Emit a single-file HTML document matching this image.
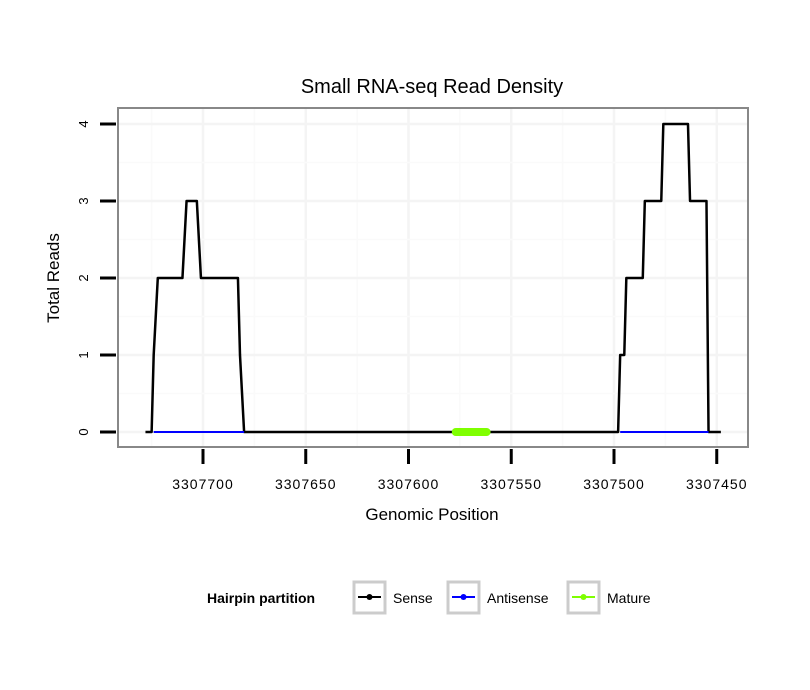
<!DOCTYPE html>
<html><head><meta charset="utf-8"><style>
body{margin:0;background:#fff;}
svg{display:block;font-family:"Liberation Sans",sans-serif;}
</style></head><body>
<svg id="chart" width="810" height="690">
<rect width="810" height="690" fill="#fff"/>
<text x="432" y="93" text-anchor="middle" font-size="20">Small RNA-seq Read Density</text>
<g id="grid"></g>
<g id="series"></g>
<rect x="118" y="108" width="630" height="339" fill="none" stroke="#888" stroke-width="2"/>
<g id="axes"></g>
<text x="432" y="520" text-anchor="middle" font-size="17">Genomic Position</text>
<text transform="translate(59,278) rotate(-90)" text-anchor="middle" font-size="17">Total Reads</text>
<g>
<text x="207" y="603" font-size="14" font-weight="bold">Hairpin partition</text>
<g>
<rect x="354" y="582" width="31" height="31" fill="none" stroke="#ccc" stroke-width="3"/>
<line x1="358" y1="597" x2="381" y2="597" stroke="#000" stroke-width="2"/><circle cx="369.5" cy="597" r="3" fill="#000"/>
<text x="393" y="603" font-size="14">Sense</text></g>
<g>
<rect x="448" y="582" width="31" height="31" fill="none" stroke="#ccc" stroke-width="3"/>
<line x1="452" y1="597" x2="475" y2="597" stroke="#00f" stroke-width="2"/><circle cx="463.5" cy="597" r="3" fill="#00f"/>
<text x="487" y="603" font-size="14">Antisense</text></g>
<g>
<rect x="568" y="582" width="31" height="31" fill="none" stroke="#ccc" stroke-width="3"/>
<line x1="572" y1="597" x2="595" y2="597" stroke="#7fff00" stroke-width="2"/><circle cx="583.5" cy="597" r="3" fill="#7fff00"/>
<text x="607" y="603" font-size="14">Mature</text></g>
</g>
</svg>
<script>
const xTicks=[3307700,3307650,3307600,3307550,3307500,3307450];
const yTicks=[0,1,2,3,4];
const sensePos=[3307728,3307725,3307724,3307722,3307710,3307708,3307703,3307701,3307683,3307682,3307680,3307498,3307497,3307495,3307494,3307486,3307485,3307477,3307476,3307464,3307463,3307455,3307454,3307448];
const senseVal=[0,0,1,2,2,3,3,2,2,1,0,0,1,1,2,2,3,3,4,4,3,3,0,0];
const antisenseRanges=[[3307724,3307680],[3307497,3307454]];
const matureRange=[3307577,3307562];
const NS="http://www.w3.org/2000/svg";
const X=v=>203+(3307700-v)*2.055;
const Y=v=>432-v*77;
function mk(tag,attrs,parent){const e=document.createElementNS(NS,tag);for(const k in attrs)e.setAttribute(k,attrs[k]);document.getElementById(parent).appendChild(e);return e;}
const inX=x=>x>119&&x<747, inY=y=>y>109&&y<446;
// grid
for(let i=-1;i<xTicks.length;i++){const v=xTicks[0]-i*50;
 if(i>=0&&inX(X(v))){const g=mk('line',{x1:X(v),x2:X(v),y1:109,y2:446,stroke:'#f4f4f4','stroke-width':2.5},'grid');
 
 }
 if(inX(X(v-25))){const m=mk('line',{x1:X(v-25),x2:X(v-25),y1:109,y2:446,stroke:'#fafafa','stroke-width':1.5},'grid');
 
 }}
for(let i=0;i<yTicks.length;i++){const v=yTicks[i];
 const g=mk('line',{x1:119,x2:747,y1:Y(v),y2:Y(v),stroke:'#f4f4f4','stroke-width':2.5},'grid');
 
 
 if(inY(Y(v+0.5))){const m=mk('line',{x1:119,x2:747,y1:Y(v+0.5),y2:Y(v+0.5),stroke:'#fafafa','stroke-width':1.5},'grid');
 
 }}
// sense
const pts=sensePos.map((p,i)=>X(p)+','+Y(senseVal[i])).join(' ');
const s=mk('polyline',{points:pts,fill:'none',stroke:'#000','stroke-width':2.5,'stroke-linejoin':'round'},'series');


antisenseRanges.forEach(r=>{const a=mk('line',{x1:X(r[0]),x2:X(r[1]),y1:Y(0),y2:Y(0),stroke:'#00f','stroke-width':2},'series');
 
 });
const mt=mk('line',{x1:X(matureRange[0]),x2:X(matureRange[1]),y1:Y(0),y2:Y(0),stroke:'#7fff00','stroke-width':8,'stroke-linecap':'round'},'series');


// axes
xTicks.forEach(v=>{const t=mk('line',{x1:X(v),x2:X(v),y1:449,y2:464,stroke:'#000','stroke-width':3},'axes');
 
 
 const l=mk('text',{x:X(v),y:489,'text-anchor':'middle','font-size':14,'letter-spacing':'1'},'axes');l.textContent=v;
 
 });
yTicks.forEach(v=>{const t=mk('line',{x1:100,x2:116,y1:Y(v),y2:Y(v),stroke:'#000','stroke-width':3},'axes');
 
 
 const l=mk('text',{transform:`translate(88,${Y(v)}) rotate(-90)`,'text-anchor':'middle','font-size':13},'axes');l.textContent=v;
 
 });
</script>
</body></html>
